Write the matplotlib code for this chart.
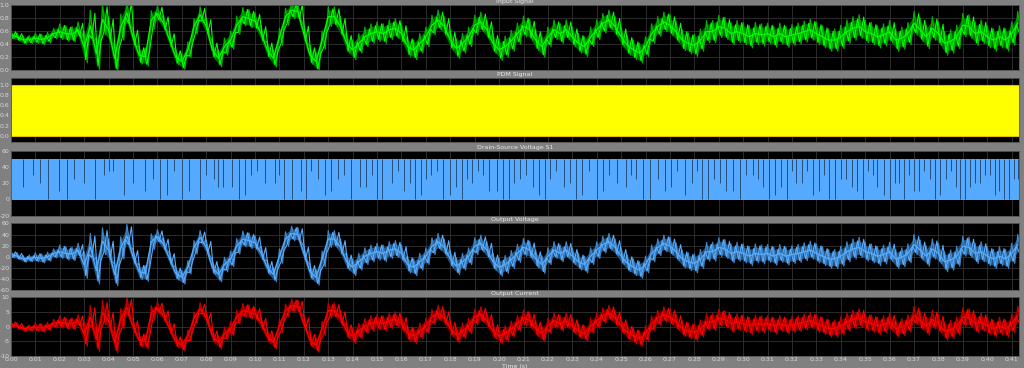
import matplotlib.pyplot as plt
import numpy as np

# sample step of the read-off traces (s)
dt = 0.0025
block = 0.01

# Input signal: centre of the noisy trace, read every 2.5 ms
input_centre = [
    0.54, 0.51, 0.46, 0.47, 0.49, 0.47, 0.50, 0.56, 0.59, 0.56,
    0.55, 0.62, 0.35, 0.68, 0.25, 0.78, 0.62, 0.18, 0.66, 0.88,
    0.50, 0.23, 0.20, 0.77, 0.87, 0.72, 0.46, 0.20, 0.13, 0.31,
    0.67, 0.85, 0.67, 0.31, 0.18, 0.36, 0.46, 0.69, 0.82, 0.79,
    0.75, 0.56, 0.31, 0.18, 0.51, 0.82, 0.92, 0.90, 0.56, 0.23,
    0.13, 0.46, 0.82, 0.82, 0.67, 0.41, 0.31, 0.41, 0.51, 0.56,
    0.59, 0.56, 0.62, 0.64, 0.56, 0.36, 0.31, 0.41, 0.51, 0.69,
    0.77, 0.67, 0.46, 0.33, 0.41, 0.51, 0.69, 0.74, 0.62, 0.41,
    0.31, 0.36, 0.45, 0.56, 0.67, 0.62, 0.46, 0.36, 0.51, 0.62,
    0.56, 0.62, 0.51, 0.41, 0.36, 0.51, 0.62, 0.72, 0.77, 0.67,
    0.51, 0.38, 0.31, 0.26, 0.36, 0.56, 0.67, 0.74, 0.69, 0.59,
    0.46, 0.41, 0.38, 0.46, 0.59, 0.59, 0.67, 0.64, 0.56, 0.59,
    0.56, 0.51, 0.56, 0.54, 0.56, 0.51, 0.56, 0.51, 0.54, 0.56,
    0.59, 0.62, 0.56, 0.51, 0.46, 0.46, 0.51, 0.59, 0.64, 0.67,
    0.59, 0.56, 0.51, 0.54, 0.59, 0.46, 0.49, 0.56, 0.72, 0.62,
    0.51, 0.64, 0.56, 0.41, 0.44, 0.51, 0.69, 0.67, 0.56, 0.59,
    0.51, 0.46, 0.51, 0.46, 0.56, 0.72,
]
# half width of the noise band, one value per 10 ms
input_spread = [
    0.06, 0.08, 0.12, 0.24, 0.20, 0.14, 0.12, 0.12, 0.13, 0.14,
    0.13, 0.13, 0.14, 0.15, 0.15, 0.15, 0.15, 0.15, 0.15, 0.15,
    0.16, 0.16, 0.15, 0.15, 0.15, 0.15, 0.15, 0.16, 0.17, 0.17,
    0.17, 0.16, 0.16, 0.17, 0.18, 0.17, 0.17, 0.18, 0.18, 0.18,
    0.17, 0.18,
]

vout_centre = [
    4, 1, -4, -3, -1, -3, 0, 6, 9, 6,
    5, 12, -15, 18, -25, 28, 12, -32, 16, 38,
    0, -27, -30, 27, 37, 22, -4, -30, -37, -19,
    17, 35, 17, -19, -32, -14, -4, 19, 32, 29,
    25, 6, -19, -32, 1, 32, 42, 40, 6, -27,
    -37, -4, 32, 32, 17, -9, -19, -9, 1, 6,
    9, 6, 12, 14, 6, -14, -19, -9, 1, 19,
    27, 17, -4, -17, -9, 1, 19, 24, 12, -9,
    -19, -14, -5, 6, 17, 12, -4, -14, 1, 12,
    6, 12, 1, -9, -14, 1, 12, 22, 27, 17,
    1, -12, -19, -24, -14, 6, 17, 24, 19, 9,
    -4, -9, -12, -4, 9, 9, 17, 14, 6, 9,
    6, 1, 6, 4, 6, 1, 6, 1, 4, 6,
    9, 12, 6, 1, -4, -4, 1, 9, 14, 17,
    9, 6, 1, 4, 9, -4, -1, 6, 22, 12,
    1, 14, 6, -9, -6, 1, 19, 17, 6, 9,
    1, -4, 1, -4, 6, 22,
]
vout_spread = [
    6, 8, 12, 24, 20, 14, 12, 12, 13, 14,
    13, 13, 14, 15, 15, 15, 15, 15, 15, 15,
    16, 16, 15, 15, 15, 15, 15, 16, 17, 17,
    17, 16, 16, 17, 18, 17, 17, 18, 18, 18,
    17, 18,
]

iout_centre = [
    0.7, 0.2, -0.7, -0.5, -0.2, -0.5, 0.0, 1.0, 1.5, 1.0,
    0.9, 2.0, -2.6, 3.1, -4.3, 4.8, 2.0, -5.4, 2.7, 6.5,
    0.0, -4.6, -5.1, 4.6, 6.3, 3.7, -0.7, -5.1, -6.3, -3.2,
    2.9, 6.0, 2.9, -3.2, -5.4, -2.4, -0.7, 3.2, 5.4, 4.9,
    4.3, 1.0, -3.2, -5.4, 0.2, 5.4, 7.1, 6.8, 1.0, -4.6,
    -6.3, -0.7, 5.4, 5.4, 2.9, -1.5, -3.2, -1.5, 0.2, 1.0,
    1.5, 1.0, 2.0, 2.4, 1.0, -2.4, -3.2, -1.5, 0.2, 3.2,
    4.6, 2.9, -0.7, -2.9, -1.5, 0.2, 3.2, 4.1, 2.0, -1.5,
    -3.2, -2.4, -0.9, 1.0, 2.9, 2.0, -0.7, -2.4, 0.2, 2.0,
    1.0, 2.0, 0.2, -1.5, -2.4, 0.2, 2.0, 3.7, 4.6, 2.9,
    0.2, -2.0, -3.2, -4.1, -2.4, 1.0, 2.9, 4.1, 3.2, 1.5,
    -0.7, -1.5, -2.0, -0.7, 1.5, 1.5, 2.9, 2.4, 1.0, 1.5,
    1.0, 0.2, 1.0, 0.7, 1.0, 0.2, 1.0, 0.2, 0.7, 1.0,
    1.5, 2.0, 1.0, 0.2, -0.7, -0.7, 0.2, 1.5, 2.4, 2.9,
    1.5, 1.0, 0.2, 0.7, 1.5, -0.7, -0.2, 1.0, 3.7, 2.0,
    0.2, 2.4, 1.0, -1.5, -1.0, 0.2, 3.2, 2.9, 1.0, 1.5,
    0.2, -0.7, 0.2, -0.7, 1.0, 3.7,
]
iout_spread = [
    1.0, 1.4, 2.0, 4.1, 3.4, 2.4, 2.0, 2.0, 2.2, 2.4,
    2.2, 2.2, 2.4, 2.6, 2.6, 2.6, 2.6, 2.6, 2.6, 2.6,
    2.7, 2.7, 2.6, 2.6, 2.6, 2.6, 2.6, 2.7, 2.9, 2.9,
    2.9, 2.7, 2.7, 2.9, 3.1, 2.9, 2.9, 3.1, 3.1, 3.1,
    2.9, 3.1,
]

# PDM output swings between these levels for the whole run
pdm_low, pdm_high = 0.0, 1.0

# Drain-source voltage of S1: switching band and the darker off-streaks
vds_low, vds_high = -1.0, 50.0
streak_t = [
    0.0150, 0.0195, 0.0260, 0.0345, 0.0380, 0.0465, 0.0500, 0.0610, 0.0670, 0.0730,
    0.0775, 0.0830, 0.0870, 0.0935, 0.0985, 0.1040, 0.1120, 0.1190, 0.1230, 0.1285,
    0.1340, 0.1395, 0.1430, 0.1480, 0.1520, 0.1560, 0.1610, 0.1655, 0.1700, 0.1745,
    0.1800, 0.1850, 0.1890, 0.1935, 0.1990, 0.2040, 0.2085, 0.2140, 0.2190, 0.2235,
    0.2290, 0.2340, 0.2400, 0.2450, 0.2520, 0.2560, 0.2620, 0.2680, 0.2730, 0.2790,
    0.2830, 0.2880, 0.2930, 0.2985, 0.3040, 0.3080, 0.3130, 0.3180, 0.3215, 0.3260,
    0.3310, 0.3350, 0.3400, 0.3445, 0.3490, 0.3530, 0.3575, 0.3620, 0.3660, 0.3700,
    0.3740, 0.3785, 0.3830, 0.3870, 0.3910, 0.3950, 0.3990, 0.4030, 0.4070, 0.4110,
    0.0050, 0.0090, 0.0230, 0.0300, 0.0420, 0.0550, 0.0580, 0.0700, 0.0800, 0.0905,
    0.0960, 0.1010, 0.1080, 0.1150, 0.1260, 0.1310, 0.1365, 0.1455, 0.1500, 0.1585,
    0.1635, 0.1680, 0.1720, 0.1770, 0.1825, 0.1870, 0.1915, 0.1960, 0.2015, 0.2060,
    0.2110, 0.2165, 0.2210, 0.2265, 0.2315, 0.2370, 0.2425, 0.2485, 0.2540, 0.2590,
    0.2650, 0.2705, 0.2760, 0.2810, 0.2855, 0.2905, 0.2960, 0.3010, 0.3060, 0.3105,
    0.3155, 0.3200, 0.3240, 0.3285, 0.3330, 0.3375, 0.3420, 0.3465, 0.3510, 0.3550,
    0.3600, 0.3640, 0.3680, 0.3720, 0.3765, 0.3805, 0.3850, 0.3890, 0.3930, 0.3970,
    0.4010, 0.4050, 0.4090, 0.4125, 0.0120, 0.0400, 0.0640, 0.0850, 0.1100, 0.1210,
]
streak_low = [
    0, 10, 25, 0, 30, 5, 20, 0, 35, 10,
    0, 25, 15, 0, 30, 20, 0, 10, 35, 5,
    25, 0, 15, 30, 0, 20, 10, 0, 25, 35,
    5, 0, 20, 30, 10, 0, 25, 15, 0, 35,
    20, 5, 0, 30, 15, 25, 0, 10, 35, 20,
    0, 25, 10, 0, 30, 15, 5, 0, 20, 35,
    10, 0, 25, 15, 0, 30, 5, 20, 0, 10,
    35, 0, 25, 15, 0, 20, 30, 5, 0, 25,
    15, 30, 0, 20, 35, 10, 25, 0, 30, 15,
    5, 35, 20, 0, 25, 10, 30, 15, 0, 35,
    20, 5, 30, 0, 15, 25, 35, 10, 0, 20,
    30, 5, 25, 15, 0, 35, 10, 20, 30, 0,
    25, 15, 5, 35, 0, 20, 10, 30, 25, 0,
    15, 35, 20, 5, 30, 0, 25, 10, 35, 15,
    0, 20, 30, 10, 25, 5, 35, 0, 15, 20,
    30, 10, 0, 25, 20, 35, 5, 15, 30, 0,
]

titles = ['Input Signal', 'PDM Signal', 'Drain-Source Voltage S1',
          'Output Voltage', 'Output Current']
yticks = [
    [0.0, 0.2, 0.4, 0.6, 0.8, 1.0],
    [0.0, 0.2, 0.4, 0.6, 0.8, 1.0],
    [-20, 0, 20, 40, 60],
    [-60, -40, -20, 0, 20, 40, 60],
    [-10, -5, 0, 5, 10],
]
xticks = [i / 100 for i in range(42)]


def noisy_trace(ax, centre, spread, dark, mid, bright):
    c = np.array(centre, dtype=float)
    s = np.repeat(np.array(spread, dtype=float), int(round(block / dt)))[:len(c)]
    t = np.arange(len(c)) * dt
    ax.fill_between(t, c - 0.7 * s, c + 0.7 * s, color=dark, lw=0)
    # jagged outline running between the band edges
    tz = np.empty(2 * len(c))
    tz[0::2] = t
    tz[1::2] = t + dt / 2
    yz = np.empty(2 * len(c))
    yz[0::2] = c + s
    yz[1::2] = c - s
    ax.plot(tz, yz, color=mid, lw=0.9)
    yz2 = np.empty(2 * len(c))
    yz2[0::2] = c - 0.8 * s
    yz2[1::2] = c + 0.8 * s
    ax.plot(tz + dt / 4, yz2, color=bright, lw=0.8)
    ax.plot(t, c, color=bright, lw=0.9)


fig = plt.figure(figsize=(10.24, 3.68), dpi=100, facecolor='#808080')
rects = [
    (0.0107, 0.8098, 0.9844, 0.1766),
    (0.0107, 0.6141, 0.9844, 0.1739),
    (0.0107, 0.4144, 0.9844, 0.1753),
    (0.0107, 0.2120, 0.9844, 0.1807),
    (0.0107, 0.0326, 0.9844, 0.1603),
]
ylims = [(0.0, 1.0), (-0.12, 1.13), (-20, 60), (-60, 60), (-10, 10)]
t_end = 0.413

axes = []
for i, r in enumerate(rects):
    ax = fig.add_axes(r, facecolor='black')
    ax.set_xlim(0, t_end)
    ax.set_ylim(*ylims[i])
    ax.set_xticks(xticks)
    ax.set_yticks(yticks[i])
    ax.grid(True, color='#333333', lw=0.6)
    ax.set_axisbelow(True)
    ax.tick_params(length=0, labelsize=4.5, colors='#d8d8d8', pad=1)
    for sp in ax.spines.values():
        sp.set_color('#555555')
        sp.set_linewidth(0.6)
    ax.set_title(titles[i], fontsize=4.5, color='#e8e8e8', pad=1.5)
    if i < 4:
        ax.tick_params(labelbottom=False)
    axes.append(ax)

yfmt = ['{:.1f}', '{:.1f}', '{:d}', '{:d}', '{:d}']
for ax, f, yt in zip(axes, yfmt, yticks):
    ax.set_yticklabels([f.format(v) for v in yt])

noisy_trace(axes[0], input_centre, input_spread, '#006a00', '#00b000', '#00ff00')

axes[1].fill_between([0, t_end], pdm_low, pdm_high, color='#ffff00', lw=0.8,
                     edgecolor='#e0c000')

axes[2].fill_between([0, t_end], vds_low, vds_high, color='#55aaff', lw=0)
axes[2].vlines(streak_t, streak_low, vds_high, color='#24507c', lw=0.7)

noisy_trace(axes[3], vout_centre, vout_spread, '#24507c', '#3f86c8', '#5aaeff')
noisy_trace(axes[4], iout_centre, iout_spread, '#700000', '#c00000', '#ff0000')

axes[4].set_xticklabels(['{:.2f}'.format(v) for v in xticks])
axes[4].set_xlabel('Time (s)', fontsize=4.5, color='#e8e8e8', labelpad=1)

fig.savefig('out.png', dpi=100, facecolor=fig.get_facecolor())
